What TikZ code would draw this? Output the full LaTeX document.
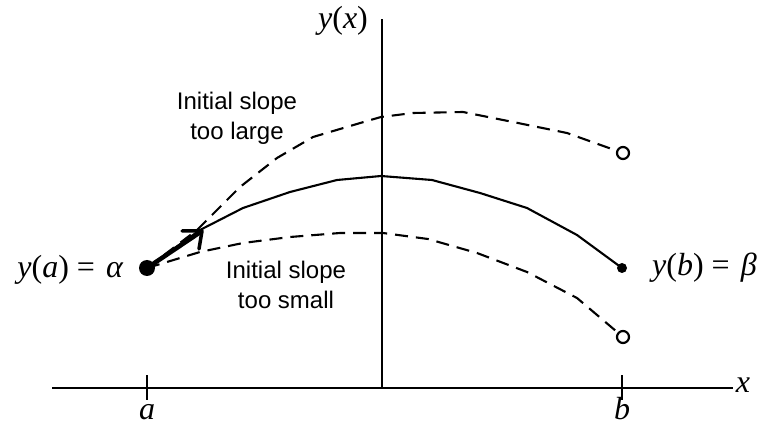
\documentclass[tikz,border=0pt]{standalone}
\usepackage{fontspec}
\setmainfont{Liberation Serif}
\newfontfamily\arial{Liberation Sans}
\tikzset{
  axis/.style={line width=2.6pt},
  solidcurve/.style={line width=2.1pt},
  dashcurve/.style={line width=2.1pt, dash pattern=on 13pt off 8pt},
  mathlbl/.style={font=\fontsize{32}{36}\selectfont\itshape, inner sep=0pt},
  sanslbl/.style={font=\arial\fontsize{24}{30}\selectfont, align=center, inner sep=0pt},
  opendot/.style={circle, draw, line width=2.2pt, fill=white, minimum size=12pt, inner sep=0pt},
  barb/.style={line width=3.5pt, line cap=round, line join=round},
}
\newcommand{\eqsp}{\hspace{8pt}=\hspace{11pt}}
\begin{document}
\begin{tikzpicture}[x=1pt,y=-1pt]
\useasboundingbox (0,0) rectangle (765,427);
% axes
\coordinate (xl) at (52,388);
\coordinate (xr) at (733,388);
\coordinate (yb) at (382,388);
\coordinate (yt) at (382,19);
\draw[axis] (xl) -- (xr);
\draw[axis] (yb) -- (yt);
\coordinate (ta1) at (147,375); \coordinate (ta2) at (147,400);
\coordinate (tb1) at (622,375); \coordinate (tb2) at (622,400);
\draw[axis] (ta1) -- (ta2);
\draw[axis] (tb1) -- (tb2);
\node[mathlbl, anchor=base] (la) at (147,419) {a};
\node[mathlbl, anchor=base] (lb) at (622,419) {b};
\node[mathlbl] (lx) at (743,385) {x};
\node[mathlbl] (ly) at (343,21) {y\upshape(\itshape x\upshape)};
% points
\coordinate (A) at (147,268);
\coordinate (B) at (622,268);
\node[opendot] (hi) at (623,153) {};
\node[opendot] (lo) at (623,337) {};
% solid curve
\draw[solidcurve] (A) -- (200,230) -- (243,208) -- (290,192) -- (337,180) -- (381,176)
  -- (432,180) -- (480,193) -- (527,208) -- (577,235) -- (B);
% upper dashed
\draw[dashcurve] (A) -- (197,230) -- (240,187) -- (277,158) -- (313,137) -- (367,121) -- (381,117)
  -- (413,113) -- (463,112) -- (513,122) -- (567,133) -- (hi);
% lower dashed
\draw[dashcurve] (A) -- (200,252) -- (243,243) -- (290,237) -- (340,233) -- (383,233)
  -- (428,239) -- (477,253) -- (527,272) -- (577,298) -- (lo);
% dots
\fill (A) circle (8pt);
\fill (B) circle (5pt);
% arrow
\coordinate (T) at (202,231);
\draw[line width=4.5pt] (A) -- (T);
\draw[barb] ([shift={(-20,0)}]T) -- (T) -- ([shift={(-3,18)}]T);
% labels
\node[mathlbl, anchor=east] (ya) at (123,270) {y\upshape(\itshape a\upshape)\eqsp\itshape α};
\node[mathlbl, anchor=west] (yb2) at (652,268) {y\upshape(\itshape b\upshape)\eqsp\itshape β};
\node[sanslbl] (large) at (237,118) {Initial slope\\too large};
\node[sanslbl] (small) at (286,285) {Initial slope\\too small};
\end{tikzpicture}
\end{document}
